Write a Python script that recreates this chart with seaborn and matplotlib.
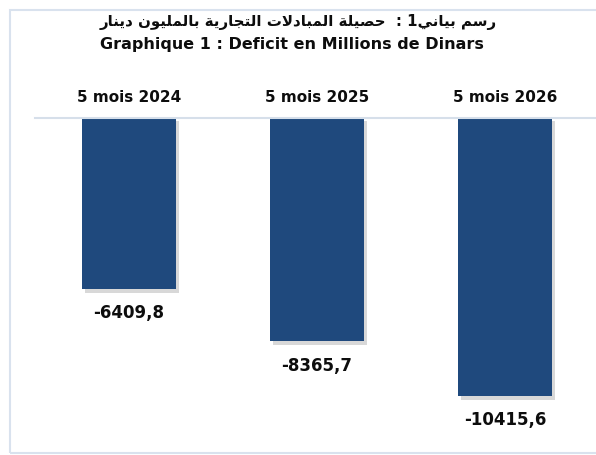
import matplotlib
matplotlib.use("Agg")
import matplotlib.pyplot as plt
import matplotlib.patheffects as pe
from matplotlib.patches import Rectangle
import seaborn as sns
import pandas as pd

# ---- data ----
categories = ["5 mois 2024", "5 mois 2025", "5 mois 2026"]
deficit = [-6409.8, -8365.7, -10415.6]
title_ar = "رسم بياني1 :  حصيلة المبادلات التجارية بالمليون دينار"
title_fr = "Graphique 1 : Deficit en Millions de Dinars"

BAR_COLOR = "#1F497D"
LINE_COLOR = "#D6DFEA"
TEXT_COLOR = "#0D0D0D"
FONT = "DejaVu Sans"

# ---- minimal Arabic shaping (matplotlib has no complex text layout) ----
FORMS = {
    'ا': ('\uFE8D', '\uFE8E', None, None),
    'ب': ('\uFE8F', '\uFE90', '\uFE91', '\uFE92'),
    'ة': ('\uFE93', '\uFE94', None, None),
    'ت': ('\uFE95', '\uFE96', '\uFE97', '\uFE98'),
    'ج': ('\uFE9D', '\uFE9E', '\uFE9F', '\uFEA0'),
    'ح': ('\uFEA1', '\uFEA2', '\uFEA3', '\uFEA4'),
    'د': ('\uFEA9', '\uFEAA', None, None),
    'ر': ('\uFEAD', '\uFEAE', None, None),
    'س': ('\uFEB1', '\uFEB2', '\uFEB3', '\uFEB4'),
    'ص': ('\uFEB9', '\uFEBA', '\uFEBB', '\uFEBC'),
    'ل': ('\uFEDD', '\uFEDE', '\uFEDF', '\uFEE0'),
    'م': ('\uFEE1', '\uFEE2', '\uFEE3', '\uFEE4'),
    'ن': ('\uFEE5', '\uFEE6', '\uFEE7', '\uFEE8'),
    'و': ('\uFEED', '\uFEEE', None, None),
    'ي': ('\uFEF1', '\uFEF2', '\uFEF3', '\uFEF4'),
}


def shape_arabic(s):
    ch = list(s)
    out = []
    i = 0
    n = len(ch)
    while i < n:
        c = ch[i]
        if c not in FORMS:
            out.append(c)
            i += 1
            continue
        prev = ch[i - 1] if i > 0 else None
        joins_prev = prev in FORMS and FORMS[prev][2] is not None
        if c == 'ل' and i + 1 < n and ch[i + 1] == 'ا':
            out.append('\uFEFC' if joins_prev else '\uFEFB')
            i += 2
            continue
        nxt = ch[i + 1] if i + 1 < n else None
        joins_next = FORMS[c][2] is not None and nxt in FORMS
        iso, fin, ini, med = FORMS[c]
        if joins_prev and joins_next:
            out.append(med)
        elif joins_prev:
            out.append(fin)
        elif joins_next:
            out.append(ini)
        else:
            out.append(iso)
        i += 1
    return ''.join(out)[::-1]


# ---- figure ----
W, H = 596, 455
fig = plt.figure(figsize=(W / 100, H / 100), dpi=100)
fig.patch.set_facecolor("white")

# outer frame (right edge lies outside the picture, as in the reference)
fig.patches.append(Rectangle((10 / W, 2 / H), 1.0, 443 / H,
                             transform=fig.transFigure, fill=False,
                             edgecolor="#D9E2EE", linewidth=1.5))

zero_y = 118
scale = 0.0267  # px per unit
ymin = -12000
ax_h = -ymin * scale
ax = fig.add_axes([35 / W, 1 - (zero_y + ax_h) / H, 564 / W, ax_h / H])

df = pd.DataFrame({"cat": categories, "val": deficit})
sns.barplot(data=df, x="cat", y="val", color=BAR_COLOR, saturation=1,
            width=0.5, ax=ax)

ax.set_ylim(ymin, 0)
ax.set_xlim(-0.5, 2.5)
for p in ax.patches:
    p.set_path_effects([pe.SimplePatchShadow(offset=(2.5, -2.5), shadow_rgbFace="#7F7F7F", alpha=0.3),
                        pe.Normal()])

labels = [f"{v:.1f}".replace(".", ",") for v in deficit]
ax.bar_label(ax.containers[0], labels=labels, padding=11,
             fontsize=12, fontweight="bold", family=FONT, color=TEXT_COLOR)

ax.xaxis.tick_top()
ax.set_xticks(range(len(categories)))
ax.set_xticklabels(categories, fontsize=11, fontweight="bold", family=FONT, color=TEXT_COLOR)
ax.tick_params(axis="x", length=0, pad=9.5)
ax.set_xlabel("")
ax.set_ylabel("")
ax.set_yticks([])
for s in ["left", "right", "bottom"]:
    ax.spines[s].set_visible(False)
ax.spines["top"].set_color(LINE_COLOR)
ax.spines["top"].set_linewidth(1.5)
ax.set_facecolor("none")

fig.text(298 / W, 1 - 22 / H, shape_arabic(title_ar), ha="center", va="center",
         fontsize=10.8, fontweight="bold", family=[FONT], color=TEXT_COLOR)
fig.text(292 / W, 1 - 45 / H, title_fr, ha="center", va="center",
         fontsize=11.5, fontweight="bold", family=FONT, color=TEXT_COLOR)

fig.savefig("out.png", dpi=100)
